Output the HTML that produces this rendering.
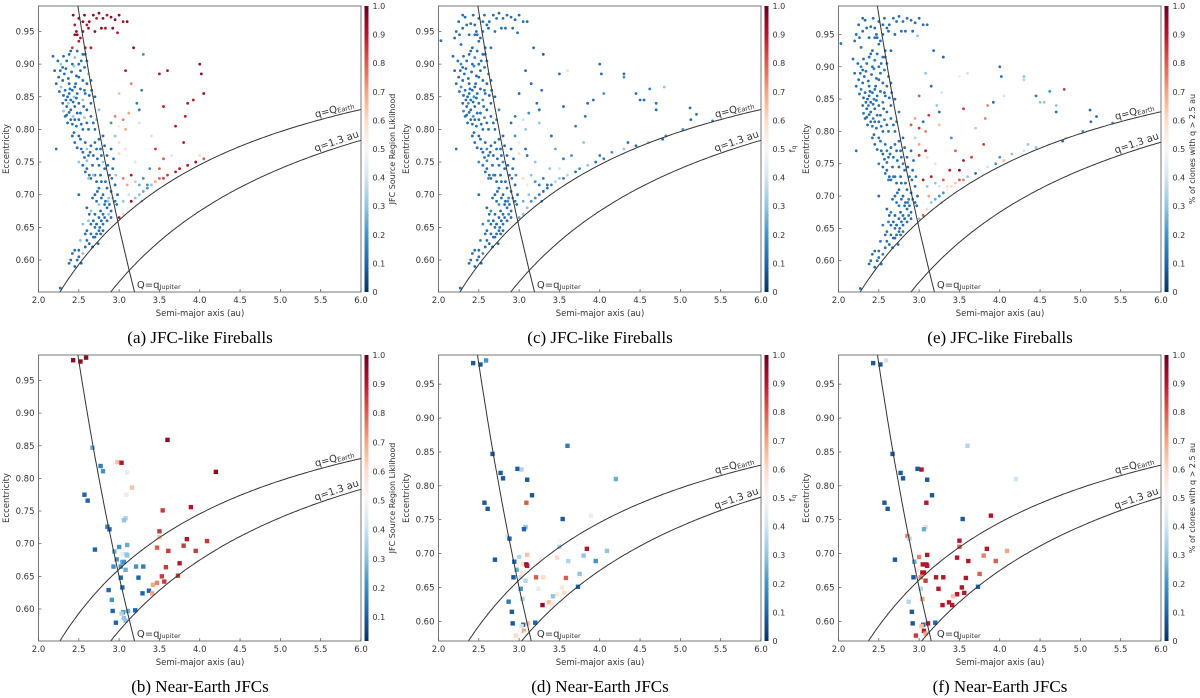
<!DOCTYPE html>
<html><head><meta charset="utf-8"><style>
html,body{margin:0;padding:0;background:#fff;width:1200px;height:698px;overflow:hidden;}
svg{display:block;font-family:"DejaVu Sans","Liberation Sans",sans-serif;}
.cap{font-family:"Liberation Serif",serif;font-size:17px;fill:#000;}
</style></head><body>
<svg id="fig" width="1200" height="698" viewBox="0 0 1200 698" xmlns="http://www.w3.org/2000/svg"></svg>
<script>
// ---- Data: top panels (JFC-like fireballs) rows: [a, e, colA(null=absent), colC, colE]
const topRedCluster = [
[2.43,0.975,0.95,0.12,0.12],[2.45,0.96,0.9,0.12,0.12],[2.47,0.95,0.95,0.12,0.12],[2.5,0.97,0.95,0.12,0.12],
[2.52,0.94,0.9,0.12,0.12],[2.55,0.965,0.95,0.12,0.12],[2.57,0.975,0.95,0.12,0.12],[2.6,0.96,0.9,0.12,0.12],
[2.63,0.965,0.95,0.12,0.12],[2.68,0.975,0.95,0.12,0.12],[2.72,0.97,0.9,0.12,0.12],[2.75,0.978,0.95,0.12,0.12],
[2.8,0.97,0.95,0.12,0.12],[2.85,0.975,0.9,0.12,0.12],[2.9,0.972,0.95,0.12,0.12],[2.95,0.968,0.95,0.12,0.12],
[3.0,0.975,0.95,0.12,0.12],[3.05,0.965,0.9,0.12,0.12],[3.1,0.965,0.95,0.12,0.12],[2.45,0.945,0.95,0.12,0.12],
[2.5,0.935,0.9,0.12,0.12],[2.55,0.95,0.95,0.12,0.12],[2.62,0.955,0.9,0.12,0.12],[2.7,0.95,0.95,0.12,0.12],
[2.78,0.955,0.95,0.12,0.12],[2.83,0.955,0.9,0.12,0.12],[2.92,0.955,0.95,0.12,0.12],[2.98,0.948,0.9,0.12,0.3],
[2.42,0.925,0.85,0.12,0.12],[2.48,0.945,0.95,0.12,0.12],[2.58,0.925,0.9,0.12,0.12],[2.65,0.925,0.9,0.12,0.12],
[3.18,0.925,0.95,0.12,0.12],[3.3,0.915,0.2,0.1,0.1],
[2.03,0.936,null,0.12,0.12],[2.2,0.94,null,0.12,0.12],[2.22,0.95,null,0.12,0.12],[2.25,0.965,null,0.12,0.12],
[2.3,0.975,null,0.12,0.12],[2.3,0.955,null,0.12,0.12],[2.35,0.96,null,0.12,0.12],[2.38,0.945,null,0.12,0.12],[2.28,0.93,null,0.12,0.12],
[2.33,0.972,null,0.12,0.12],[2.4,0.962,null,0.12,0.12],[2.26,0.945,null,0.12,0.12]
];
const blueCloud = [
[2.18,0.912],[2.2,0.89],[2.25,0.88],[2.28,0.9],[2.3,0.895],[2.32,0.885],[2.35,0.905],[2.38,0.915],[2.4,0.92],[2.42,0.9],
[2.45,0.91],[2.48,0.92],[2.5,0.9],[2.52,0.89],[2.55,0.915],[2.6,0.905],[2.22,0.87],[2.28,0.865],[2.3,0.875],[2.33,0.86],
[2.36,0.85],[2.38,0.855],[2.4,0.845],[2.42,0.86],[2.44,0.85],[2.46,0.87],[2.48,0.855],[2.5,0.88],[2.55,0.875],[2.57,0.86],
[2.6,0.87],[2.62,0.885],[2.65,0.875],[2.3,0.84],[2.35,0.835],[2.4,0.83],[2.45,0.835],[2.5,0.84],[2.55,0.845],[2.6,0.83],
[2.65,0.84],[2.7,0.85],[2.33,0.82],[2.36,0.81],[2.4,0.815],[2.43,0.82],[2.47,0.805],[2.5,0.815],[2.55,0.8],[2.6,0.81],
[2.65,0.82],[2.7,0.8],[2.75,0.83],[2.42,0.79],[2.45,0.78],[2.5,0.79],[2.53,0.77],[2.55,0.765],[2.58,0.78],[2.6,0.77],
[2.62,0.76],[2.65,0.775],[2.7,0.78],[2.75,0.785],[2.8,0.79],[2.22,0.77],[2.5,0.75],[2.55,0.745],[2.6,0.74],[2.63,0.73],
[2.65,0.725],[2.7,0.73],[2.75,0.745],[2.8,0.75],[2.85,0.76],[2.9,0.77],[2.88,0.73],[2.5,0.7],[2.7,0.7],[2.72,0.69],
[2.75,0.685],[2.78,0.695],[2.8,0.7],[2.85,0.71],[2.9,0.705],[2.95,0.715],[2.6,0.68],[2.65,0.675],[2.7,0.67],[2.75,0.665],
[2.8,0.67],[2.85,0.68],[2.9,0.675],[2.95,0.69],[2.62,0.66],[2.65,0.655],[2.7,0.65],[2.75,0.645],[2.8,0.655],[2.85,0.66],
[2.9,0.665],[2.55,0.655],[2.6,0.63],[2.63,0.625],[2.68,0.635],[2.72,0.64],[2.77,0.64],[2.5,0.615],[2.55,0.61],[2.45,0.615],
[2.4,0.6],[2.45,0.59],[2.5,0.605],[2.27,0.557],[2.75,0.71],[2.68,0.73],[2.58,0.855],[2.45,0.865],[2.38,0.87],[2.52,0.825],
[2.57,0.895],[2.66,0.86],[2.72,0.815],[2.78,0.76],[2.83,0.72],[2.92,0.74],[2.6,0.645],[2.67,0.62],[2.82,0.685],[2.87,0.695],
[2.24,0.905],[2.27,0.89],[2.31,0.912],[2.34,0.893],[2.37,0.878],[2.41,0.888],[2.44,0.897],[2.47,0.882],[2.53,0.905],[2.58,0.915],
[2.26,0.858],[2.31,0.852],[2.34,0.845],[2.37,0.84],[2.39,0.862],[2.43,0.842],[2.47,0.848],[2.52,0.862],[2.56,0.835],[2.63,0.852],
[2.31,0.828],[2.35,0.822],[2.38,0.826],[2.42,0.808],[2.45,0.815],[2.48,0.825],[2.53,0.808],[2.57,0.818],[2.62,0.8],[2.68,0.81],
[2.44,0.795],[2.48,0.772],[2.52,0.785],[2.57,0.757],[2.6,0.752],[2.64,0.765],[2.68,0.76],[2.72,0.77],[2.77,0.77],[2.82,0.775],
[2.58,0.735],[2.62,0.725],[2.67,0.745],[2.72,0.72],[2.77,0.73],[2.82,0.74],[2.86,0.745],[2.93,0.755],[2.96,0.73],[2.98,0.7],
[2.67,0.695],[2.73,0.705],[2.77,0.675],[2.83,0.69],[2.88,0.685],[2.92,0.695],[2.97,0.685],[2.63,0.67],[2.68,0.66],[2.72,0.655],
[2.78,0.66],[2.82,0.665],[2.87,0.67],[2.58,0.64],[2.65,0.64],[2.7,0.635],[2.74,0.625],[2.8,0.645],[2.58,0.62],[2.52,0.63],
[2.42,0.61],[2.48,0.6],[2.38,0.595],[2.53,0.595],[2.72,0.655],[2.76,0.65],[2.86,0.69],[2.91,0.725],[2.78,0.72],[2.73,0.755]
];
const cloudColA = [0.12, 0.3]; // base, light variant (every 7th point)
const cloudColC = [0.12, 0.18];
const cloudColE = [0.12, 0.15];
const topRight = [
[3.0,0.665,0.9,0.25,0.3],[3.05,0.67,0.6,0.3,0.8],[3.1,0.68,0.5,0.3,0.6],[3.15,0.69,0.95,0.2,0.3],[3.2,0.695,0.3,0.2,0.25],
[3.25,0.7,0.3,0.15,0.2],[3.3,0.705,0.25,0.12,0.2],[3.35,0.71,0.2,0.12,0.55],[3.4,0.715,0.3,0.15,0.6],[3.45,0.72,0.7,0.35,0.65],
[3.5,0.725,0.8,0.3,0.8],[3.55,0.725,0.85,0.15,0.75],[3.6,0.73,0.85,0.35,0.3],[3.7,0.735,0.9,0.12,0.12],[3.75,0.74,0.9,0.2,0.45],
[3.85,0.745,0.9,0.3,0.4],[3.95,0.75,0.95,0.12,0.2],[4.05,0.755,0.8,0.15,0.65],[4.0,0.76,0.6,0.15,0.2],[3.3,0.725,0.2,0.15,0.8],
[3.35,0.715,0.2,0.12,0.6],[3.08,0.89,0.9,0.12,0.3],[3.22,0.84,0.15,0.12,0.3],[3.25,0.83,0.15,0.12,0.12],[3.28,0.86,0.15,0.12,0.4],
[3.15,0.87,0.75,0.12,0.12],[3.0,0.855,0.65,0.1,0.8],[3.05,0.815,0.75,0.4,0.12],[3.08,0.8,0.7,0.3,0.75],[3.12,0.825,0.7,0.2,0.85],
[2.95,0.82,0.75,0.15,0.7],[3.0,0.805,0.55,0.5,0.85],[3.0,0.78,0.6,0.55,0.7],[3.0,0.763,0.6,0.6,0.85],[3.05,0.725,0.75,0.6,0.9],
[3.1,0.76,0.5,0.12,0.6],[3.08,0.77,0.6,0.12,0.9],[3.15,0.73,0.9,0.3,0.9],[3.1,0.715,0.7,0.55,0.3],[3.2,0.75,0.6,0.3,0.6],
[3.45,0.77,0.85,0.25,0.8],[3.5,0.74,0.8,0.4,0.95],[3.55,0.755,0.8,0.15,0.9],[3.65,0.76,0.4,0.2,0.85],[3.55,0.835,0.9,0.12,0.85],
[3.5,0.885,0.9,0.12,0.55],[3.6,0.89,0.9,0.4,0.4],[3.7,0.805,0.9,0.15,0.35],[3.85,0.84,0.9,0.12,0.75],[3.8,0.78,0.9,0.3,0.85],
[3.92,0.845,0.9,0.12,0.12],[3.82,0.82,0.9,0.12,0.75],[4.0,0.9,0.95,0.12,0.12],[4.02,0.885,0.95,0.12,0.12],[4.05,0.855,0.95,0.2,0.4],
[3.4,0.79,0.4,0.12,0.2],[3.25,0.81,0.4,0.3,0.65],[2.95,0.79,0.3,0.2,0.35],[2.9,0.81,0.2,0.12,0.8],[3.38,0.74,0.2,0.3,0.9],
[3.2,0.72,0.35,0.2,0.3],[3.25,0.715,0.25,0.15,0.4],[3.28,0.69,0.3,0.2,0.35],[3.12,0.7,0.4,0.3,0.7],[3.05,0.69,0.3,0.25,0.5],
[4.3,0.885,null,0.12,0.3],[4.3,0.88,null,0.2,0.35],[4.45,0.855,null,0.12,0.15],[4.5,0.845,null,0.12,0.3],[4.55,0.845,null,0.12,0.3],
[4.62,0.862,null,0.15,0.2],[4.7,0.84,null,0.12,0.3],[4.7,0.83,null,0.12,0.12],[4.8,0.865,null,0.3,0.85],[5.12,0.833,null,0.12,0.12],
[5.13,0.815,null,0.12,0.12],[5.2,0.823,null,0.12,0.12],[5.4,0.813,null,0.15,0.2],[5.03,0.8,null,0.2,0.2],[4.78,0.785,null,0.12,0.12],
[4.82,0.79,null,0.2,0.6],[4.6,0.78,null,0.3,0.5],[4.35,0.78,null,0.12,0.3],[4.3,0.77,null,0.3,0.4],[4.45,0.775,null,0.12,0.3],[4.15,0.765,null,0.2,0.3]
];
// ---- Bottom panels (Near-Earth JFCs): [a, e, colB, colD, colF]
const neJFC = [
[2.43,0.981,0.95,0.08,0.08],[2.52,0.979,0.95,0.08,0.08],[2.59,0.985,0.95,0.2,0.4],[2.67,0.847,0.25,0.08,0.08],
[2.57,0.775,0.1,0.08,0.08],[2.61,0.766,0.1,0.08,0.08],[2.77,0.819,0.15,0.08,0.08],[2.8,0.811,0.2,0.08,0.08],
[2.7,0.691,0.1,0.08,0.08],[2.855,0.726,0.15,0.45,0.75],[2.88,0.722,0.1,0.1,0.35],[2.94,0.688,0.25,0.1,0.25],
[2.93,0.665,0.2,0.08,0.08],[2.97,0.676,0.2,0.25,0.55],[2.98,0.825,0.65,0.08,0.08],[3.03,0.824,0.9,0.35,0.9],
[3.1,0.809,0.45,0.08,0.08],[3.16,0.786,0.65,0.08,0.08],[3.09,0.775,0.55,0.8,0.9],[3.08,0.739,0.35,0.3,0.6],
[3.06,0.736,0.3,0.1,0.25],[3.0,0.695,0.2,0.35,0.75],[3.1,0.698,0.25,0.65,0.9],[3.045,0.684,0.45,0.6,0.9],
[3.09,0.684,0.35,0.95,0.9],[3.1,0.682,0.3,0.9,0.9],[3.04,0.672,0.25,0.6,0.9],[3.06,0.672,0.2,0.55,0.9],
[3.02,0.665,0.2,0.4,0.75],[3.08,0.66,0.25,0.35,0.85],[3.02,0.648,0.1,0.2,0.35],[3.04,0.633,0.1,0.35,0.7],
[2.87,0.629,0.1,0.15,0.35],[2.91,0.614,0.2,0.08,0.08],[2.92,0.597,0.1,0.08,0.08],[3.05,0.595,0.2,0.1,0.1],
[3.03,0.593,0.35,0.4,0.65],[3.11,0.597,0.25,0.65,0.9],[3.2,0.598,0.1,0.1,0.1],[3.06,0.586,0.3,0.7,0.9],
[2.96,0.579,0.1,0.6,0.85],[3.08,0.582,0.3,0.5,0.7],[3.6,0.859,0.95,0.15,0.35],[4.2,0.81,0.95,0.25,0.4],
[3.54,0.751,0.85,0.08,0.08],[3.89,0.756,0.9,0.45,0.9],[3.5,0.719,0.85,0.5,0.9],[3.5,0.71,0.65,0.35,0.8],
[3.84,0.707,0.9,0.9,0.9],[4.09,0.704,0.85,0.3,0.7],[3.47,0.694,0.8,0.6,0.9],[3.61,0.689,0.85,0.35,0.9],
[3.8,0.697,0.85,0.3,0.75],[3.95,0.689,0.85,0.2,0.8],[3.21,0.665,0.2,0.8,0.9],[3.3,0.665,0.15,0.6,0.9],
[3.58,0.664,0.85,0.8,0.9],[3.75,0.67,0.9,0.3,0.8],[3.24,0.648,0.1,0.45,0.9],[3.53,0.65,0.85,0.55,0.9],
[3.73,0.651,0.85,0.1,0.1],[3.56,0.642,0.85,0.6,0.9],[3.47,0.64,0.75,0.55,0.9],[3.42,0.637,0.7,0.3,0.65],
[3.37,0.628,0.1,0.65,0.9],[3.29,0.624,0.1,0.95,0.9],[3.41,0.624,0.7,0.55,0.9]
];
const xTicks = [2.0,2.5,3.0,3.5,4.0,4.5,5.0,5.5,6.0];
const yTicks = [0.60,0.65,0.70,0.75,0.80,0.85,0.90,0.95];
const cbTicks = [0,0.1,0.2,0.3,0.4,0.5,0.6,0.7,0.8,0.9,1.0];
const cbTicksB = [0.1,0.2,0.3,0.4,0.5,0.6,0.7,0.8,0.9,1.0];
const Q_EARTH = 1.017, Q13 = 1.3, Q_JUP = 4.95;

const NS='http://www.w3.org/2000/svg';
const svg=document.getElementById('fig');
const stops=['#053061','#2166ac','#4393c3','#92c5de','#d1e5f0','#f7f7f7','#fddbc7','#f4a582','#d6604d','#b2182b','#67001f'];
function hex(h){return [1,3,5].map(i=>parseInt(h.substr(i,2),16));}
function cmap(v){v=Math.max(0,Math.min(1,v));const t=v*10,i=Math.min(9,Math.floor(t)),f=t-i;const a=hex(stops[i]),b=hex(stops[i+1]);
 return 'rgb('+a.map((c,k)=>Math.round(c+(b[k]-c)*f)).join(',')+')';}
function mk(tag,attrs,parent){const e=document.createElementNS(NS,tag);for(const k in attrs)e.setAttribute(k,attrs[k]);(parent||svg).appendChild(e);return e;}
const defs=mk('defs',{});
const g=mk('linearGradient',{id:'cbg',x1:0,y1:1,x2:0,y2:0},defs);
stops.forEach((s,i)=>mk('stop',{offset:i/10,'stop-color':s},g));

const panels=[
 {id:'a',ox:0,top:6,bot:292,ymin:0.551,ymax:0.989,set:'top',ci:2,cbmin:0,ticks:cbTicks,title:'JFC Source Region Liklihood',cap:'(a) JFC-like Fireballs',capy:343},
 {id:'c',ox:400,top:6,bot:292,ymin:0.551,ymax:0.989,set:'top',ci:3,cbmin:0,ticks:cbTicks,title:'f_q',cap:'(c) JFC-like Fireballs',capy:343},
 {id:'e',ox:800,top:6,bot:292,ymin:0.5516,ymax:0.994,set:'top',ci:4,cbmin:0,ticks:cbTicks,title:'% of clones with q > 2.5 au',cap:'(e) JFC-like Fireballs',capy:343},
 {id:'b',ox:0,top:355,bot:641,ymin:0.551,ymax:0.989,set:'bot',ci:2,cbmin:0.018,ticks:cbTicksB,title:'JFC Source Region Liklihood',cap:'(b) Near-Earth JFCs',capy:692},
 {id:'d',ox:400,top:355,bot:641,ymin:0.571,ymax:0.993,set:'bot',ci:3,cbmin:0,ticks:cbTicks,title:'f_q',cap:'(d) Near-Earth JFCs',capy:692},
 {id:'f',ox:800,top:355,bot:641,ymin:0.571,ymax:0.993,set:'bot',ci:4,cbmin:0,ticks:cbTicks,title:'% of clones with q > 2.5 au',cap:'(f) Near-Earth JFCs',capy:692}
];

panels.forEach(p=>{
 const L=p.ox+38.5,R=p.ox+361;
 const X=a=>L+(a-2)*(R-L)/4;
 const Y=e=>p.top+(p.ymax-e)/(p.ymax-p.ymin)*(p.bot-p.top);
 const grp=mk('g',{});
 
 
 const cp=mk('clipPath',{id:'clip'+p.id},defs);
 mk('rect',{x:L,y:p.top,width:R-L,height:p.bot-p.top},cp);
 const pts=mk('g',{'clip-path':'url(#clip'+p.id+')'},grp);
 
 
 if(p.set==='top'){
  const colIdx=p.ci-2;
  const cloudCols=[cloudColA,cloudColC,cloudColE][colIdx];
  blueCloud.forEach((r,i)=>{
   const c=mk('circle',{cx:X(r[0]),cy:Y(r[1]),r:1.4,fill:cmap(cloudCols[i%7===3?1:0])},pts);
   
   
  });
  topRedCluster.concat(topRight).forEach(r=>{
   const v=r[p.ci]; if(v===null) return;
   const c=mk('circle',{cx:X(r[0]),cy:Y(r[1]),r:1.4,fill:cmap(v)},pts);
   
   
  });
 } else {
  neJFC.forEach(r=>{
   const c=mk('rect',{x:X(r[0])-2.2,y:Y(r[1])-2.2,width:4.4,height:4.4,fill:cmap(r[p.ci])},pts);
   
   
  });
 }
 const curve=(fn,name)=>{let d='';for(let a=2.0;a<=6.0001;a+=0.02){d+=(d?'L':'M')+X(a).toFixed(1)+','+Y(fn(a)).toFixed(1);}
  const pa=mk('path',{d:d,fill:'none',stroke:'#333','stroke-width':1,'clip-path':'url(#clip'+p.id+')'},grp);
  
  };
 curve(a=>1-Q_EARTH/a,'curve-q-earth');
 curve(a=>1-Q13/a,'curve-q-1.3au');
 curve(a=>Q_JUP/a-1,'curve-Q-jupiter');
 const lab=(fn,a0,txt,sub,name,dy)=>{const x0=X(a0),y0=Y(fn(a0));const ang=Math.atan2(Y(fn(a0+0.2))-y0,X(a0+0.2)-x0)*180/Math.PI;
  const t=mk('text',{x:x0,y:y0-dy,'font-size':10,fill:'#333',transform:'rotate('+ang.toFixed(1)+' '+x0+' '+y0+')'},grp);
  t.textContent=txt; const s=mk('tspan',{'font-size':6.5,dy:1},t); s.textContent=sub;
  };
 lab(a=>1-Q_EARTH/a,5.45,'q=Q','Earth','label-q-earth',3);
 lab(a=>1-Q13/a,5.45,'q=1.3 au','','label-q-1.3au',3);
 const tj=mk('text',{x:X(3.22),y:p.bot-4,'font-size':10,fill:'#333'},grp);
 tj.textContent='Q=q';const sj=mk('tspan',{'font-size':6.5,dy:1},tj);sj.textContent='Jupiter';
 
 const fr=mk('rect',{x:L,y:p.top,width:R-L,height:p.bot-p.top,fill:'none',stroke:'#555','stroke-width':0.8},grp);
 
 xTicks.forEach(v=>{mk('line',{x1:X(v),x2:X(v),y1:p.bot,y2:p.bot-3,stroke:'#555','stroke-width':0.7},grp);
  const t=mk('text',{x:X(v),y:p.bot+11,'font-size':8.5,fill:'#333','text-anchor':'middle'},grp);t.textContent=v.toFixed(1);
  });
 yTicks.forEach(v=>{mk('line',{x1:L,x2:L+3,y1:Y(v),y2:Y(v),stroke:'#555','stroke-width':0.7},grp);
  const t=mk('text',{x:L-4,y:Y(v)+3,'font-size':8.5,fill:'#333','text-anchor':'end'},grp);t.textContent=v.toFixed(2);
  });
 const xt=mk('text',{x:p.ox+200,y:p.bot+24,'font-size':8.5,fill:'#333','text-anchor':'middle'},grp);xt.textContent='Semi-major axis (au)';
 
 const cy=(p.top+p.bot)/2;
 const yt=mk('text',{x:p.ox+9,y:cy,'font-size':8.5,fill:'#333','text-anchor':'middle',transform:'rotate(-90 '+(p.ox+9)+' '+cy+')'},grp);yt.textContent='Eccentricity';
 
 const cbx=p.ox+364.5;
 const cb=mk('rect',{x:cbx,y:p.top,width:4,height:p.bot-p.top,fill:'url(#cbg)'},grp);
 
 const CY=v=>p.bot-(v-p.cbmin)/(1-p.cbmin)*(p.bot-p.top);
 p.ticks.forEach(v=>{const t=mk('text',{x:cbx+8,y:CY(v)+3,'font-size':8,fill:'#333'},grp);t.textContent=(v===0?'0':v.toFixed(1));
  });
 const tx=p.ox+395;
 const ct=mk('text',{x:tx,y:cy,'font-size':8,fill:'#333','text-anchor':'middle',transform:'rotate(-90 '+tx+' '+cy+')'},grp);
 if(p.title==='f_q'){ct.textContent='f';const s=mk('tspan',{'font-size':6,dy:1},ct);s.textContent='q';}else ct.textContent=p.title;
 
 const cap=mk('text',{x:p.ox+200,y:p.capy,'text-anchor':'middle',class:'cap'},grp);cap.textContent=p.cap;
 
});
</script>
</body></html>
